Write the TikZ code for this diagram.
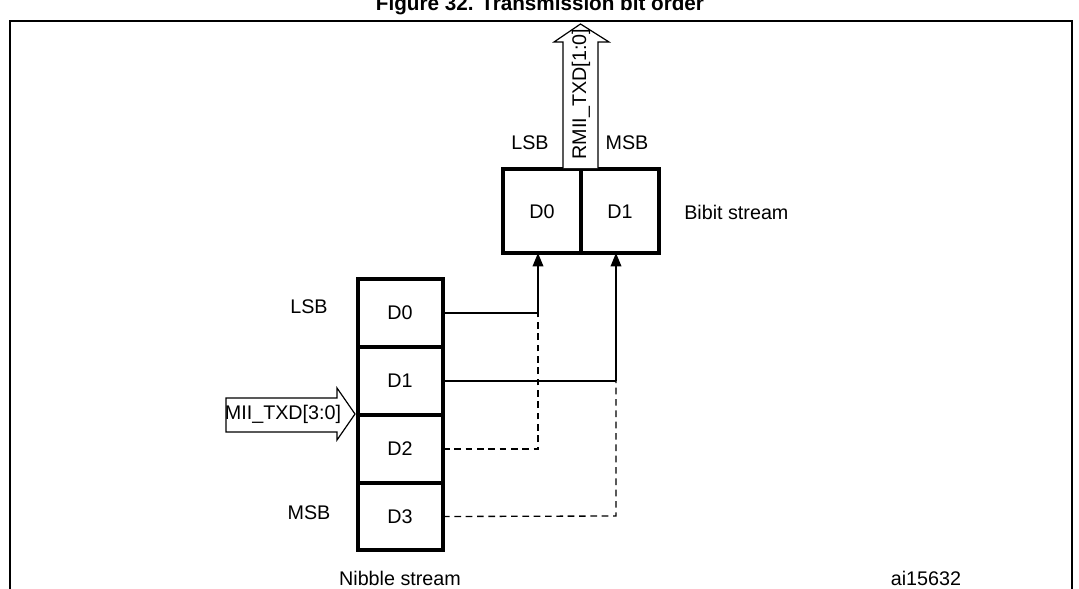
\documentclass[tikz,border=0pt]{standalone}
\usepackage{fontspec}
\setmainfont{Liberation Sans}
\usetikzlibrary{arrows.meta}
\begin{document}
\begin{tikzpicture}[x=0.75pt,y=-0.75pt,
  box/.style={draw,line width=2.4pt},
  wire/.style={line width=1pt},
  dwire/.style={line width=1pt,dash pattern=on 5pt off 3.5pt},
  lbl/.style={font=\fontsize{14.8}{16}\selectfont,inner sep=0pt},
  tip/.style={-{Triangle[length=10pt,width=8pt]}},
  fat/.style={draw,line width=0.9pt,fill=white}]
\useasboundingbox (0,0) rectangle (1079,589);
\node[font=\bfseries\fontsize{15.5}{17}\selectfont,inner sep=0pt] (title) at (540,5) {Figure 32. Transmission bit order};
\draw[line width=1.6pt] (10,598) -- (10,21) -- (1072,21) -- (1072,598);
% nibble
\foreach \n/\a/\b in {0/279/347,1/347/415,2/415/483,3/483/550}{
  \draw[box] (358,\a) rectangle (443,\b);
  \node[lbl] (n\n) at (400,{(\a+\b)/2}) {D\n};
  \coordinate (e\n) at (443,{(\a+\b)/2});
}
\node[lbl] (lsb1) at (309,307) {LSB};
\node[lbl] (msb1) at (309,513) {MSB};
\node[lbl] (nib) at (400,578) {Nibble stream};
\node[lbl] (ai) at (926,578) {ai15632};
% bibit
\draw[box] (503,169) rectangle (581,253);
\draw[box] (581,169) rectangle (659,253);
\node[lbl] (b0) at (542,212) {D0};
\node[lbl] (b1) at (620,212) {D1};
\node[lbl,anchor=west] (bib) at (684,212) {Bibit stream};
\coordinate (t0) at (538,253); \coordinate (t1) at (616,253);
\coordinate (j0) at (538,313); \coordinate (j1) at (616,381);
\coordinate (k0) at (538,449); \coordinate (k1) at (616,516);
\draw[wire] (e0) -- (j0);
\draw[wire,tip] (j0) -- (t0);
\draw[wire] (e1) -- (j1);
\draw[wire,tip] (j1) -- (t1);
\draw[dwire] (e2) -- (k0) -- (j0);
\draw[dwire] (e3) -- (k1) -- (j1);
% MII arrow
\draw[fat] (226,398) -- (337,398) -- (337,388) -- (355,414) -- (337,440) -- (337,432) -- (226,432) -- cycle;
\node[lbl] (mii) at (283,414) {MII\_TXD[3:0]};
% RMII arrow
\draw[fat] (563,168) -- (563,42) -- (554,42) -- (580.5,24) -- (609,42) -- (598,42) -- (598,168);
\node[lbl,rotate=90] (rmii) at (581,94) {RMII\_TXD[1:0]};
\node[lbl] (lsb2) at (530,143) {LSB};
\node[lbl] (msb2) at (627,143) {MSB};
\end{tikzpicture}
\end{document}
